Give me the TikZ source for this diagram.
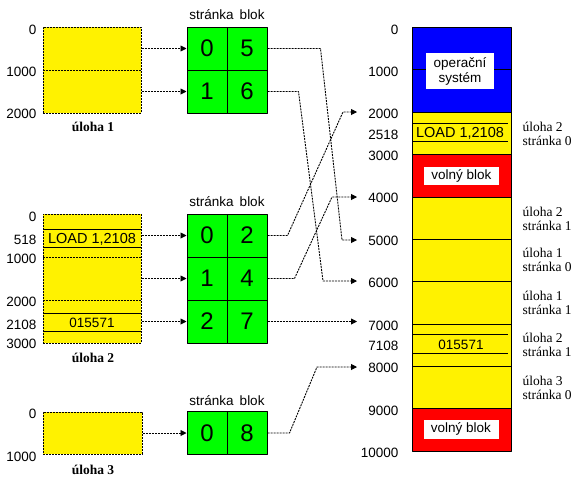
\documentclass[tikz,border=0pt]{standalone}
\usepackage{fontspec}
\setmainfont{Liberation Serif}
\newfontfamily\winsans{Liberation Sans}
\usetikzlibrary{arrows.meta}

\begin{document}
\begin{tikzpicture}[x=1pt,y=-1pt,line join=round,line width=1pt,
  lbl/.style={font=\winsans\fontsize{13.5}{15}\selectfont,inner sep=0pt},
  cell/.style={draw,fill=green,minimum width=40pt,minimum height=43pt,inner sep=0pt,
    font=\winsans\fontsize{24}{26}\selectfont},
  taskbox/.style={draw,fill=yellow,dash pattern=on 2pt off 1pt,line width=0.9pt,
    anchor=north west,inner sep=0pt,minimum width=98pt},
  dline/.style={dash pattern=on 2pt off 1pt,line width=0.9pt},
  link/.style={dash pattern=on 2pt off 1pt,line width=0.9pt,-{Triangle[length=6pt,width=6pt]}},
  wbox/.style={fill=white,inner sep=0pt,align=center,font=\winsans\fontsize{13.5}{15}\selectfont},
  title/.style={font=\bfseries\fontsize{13.5}{15}\selectfont,inner sep=0pt},
  note/.style={font=\fontsize{13.5}{14}\selectfont,inner sep=0pt,anchor=west,align=left}]
\useasboundingbox (0,0) rectangle (578,483);
% processes
\node[taskbox,minimum height=86pt] (t1) at (43,27) {};
\draw[dline] (43,70) -- (141,70);
\node[title] at (93,127) {úloha 1};
\node[taskbox,minimum height=129pt] (t2) at (43,214) {};
\foreach \y in {229,247,313,331} \draw (43,\y) -- (141,\y);
\foreach \y in {257,300} \draw[dline] (43,\y) -- (141,\y);
\node[lbl,font=\winsans\fontsize{14.5}{15}\selectfont] at (92,239) {LOAD 1,2108};
\node[lbl] at (92,323) {015571};
\node[title] at (93,358) {úloha 2};
\node[taskbox,minimum height=42pt,minimum width=99pt] (t3) at (43,412) {};
\node[title] at (93,470) {úloha 3};
\foreach \y/\l in {30/0,72/1000,114/2000,217/0,240/518,259/1000,302/2000,325/2108,344/3000,414/0,457/1000}
  \node[lbl,anchor=east] at (37,\y) {\l};
% page tables
\foreach \r/\s/\b in {0/0/5,1/1/6}{
  \node[cell] (p1s\r) at (207,{48.5+43*\r}) {\s};
  \node[cell] (p1b\r) at (247,{48.5+43*\r}) {\b};}
\foreach \r/\s/\b in {0/0/2,1/1/4,2/2/7}{
  \node[cell] (p2s\r) at (207,{235.5+43*\r}) {\s};
  \node[cell] (p2b\r) at (247,{235.5+43*\r}) {\b};}
\node[cell] (p3s0) at (207,433) {0};
\node[cell] (p3b0) at (247,433) {8};
\foreach \y in {15,202,401} \node[lbl] at (227,\y) {stránka\hspace{6pt}blok};
% memory
\fill[blue] (412,27) rectangle (511,112);
\fill[yellow] (412,112) rectangle (511,154);
\fill[red] (412,154) rectangle (511,197);
\fill[yellow] (412,197) rectangle (511,408);
\fill[red] (412,408) rectangle (511,451);
\draw (412,27) rectangle (511,451);
\foreach \y in {69.5,112,154,197,239,281,324,366,408} \draw (412,\y) -- (511,\y);
\foreach \y in {123,141,334,353} \draw (412,\y) -- (508,\y);
\node[wbox,minimum width=68pt,minimum height=36pt] (os) at (460,71) {operační\\systém};
\node[wbox,minimum width=75pt,minimum height=18pt] (free1) at (461.5,175.5) {volný blok};
\node[wbox,minimum width=75pt,minimum height=19pt] (free2) at (461,429) {volný blok};
\node[lbl,font=\winsans\fontsize{14.5}{15}\selectfont] at (460,133) {LOAD 1,2108};
\node[lbl] at (461,345) {015571};
\foreach \y/\l in {30/0,72/1000,114/2000,135/2518,156/3000,198/4000,241/5000,283/6000,326/7000,346/7108,368/8000,411/9000,453/10000}
  \node[lbl,anchor=east] at (399,\y) {\l};
\foreach \y/\t/\s in {133.5/2/0,219/2/1,260/1/0,303/1/1,345/2/1,388/3/0}
  \node[note] at (522,\y) {úloha \t\\stránka \s};
% targets in memory
\coordinate (m2) at (357,112);
\coordinate (m4) at (357,197);
\coordinate (m5) at (357,240);
\coordinate (m6) at (357,281);
\coordinate (m7) at (357,321.5);
\coordinate (m8) at (357,367);
% links
\foreach \r in {0,1} \draw[link] (t1.east |- p1s\r) -- (p1s\r.west);
\foreach \r in {0,1,2} \draw[link] (t2.east |- p2s\r) -- (p2s\r.west);
\draw[link] (t3.east |- p3s0) -- (p3s0.west);
\draw[link] (p1b0.east) -- ++(53,0) -- ([xshift=-15pt]m5) -- (m5);
\draw[link] (p1b1.east) -- ++(31,0) -- ([xshift=-34pt]m6) -- (m6);
\draw[link] (p2b0.east) -- ++(20,0) -- ([xshift=-14pt]m2) -- (m2);
\draw[link] (p2b1.east) -- ++(27,0) -- ([xshift=-25pt]m4) -- (m4);
\draw[link] (p2b2.east) -- (m7);
\draw[link] (p3b0.east) -- ++(22,0) -- ([xshift=-40pt]m8) -- (m8);
\end{tikzpicture}
\end{document}
